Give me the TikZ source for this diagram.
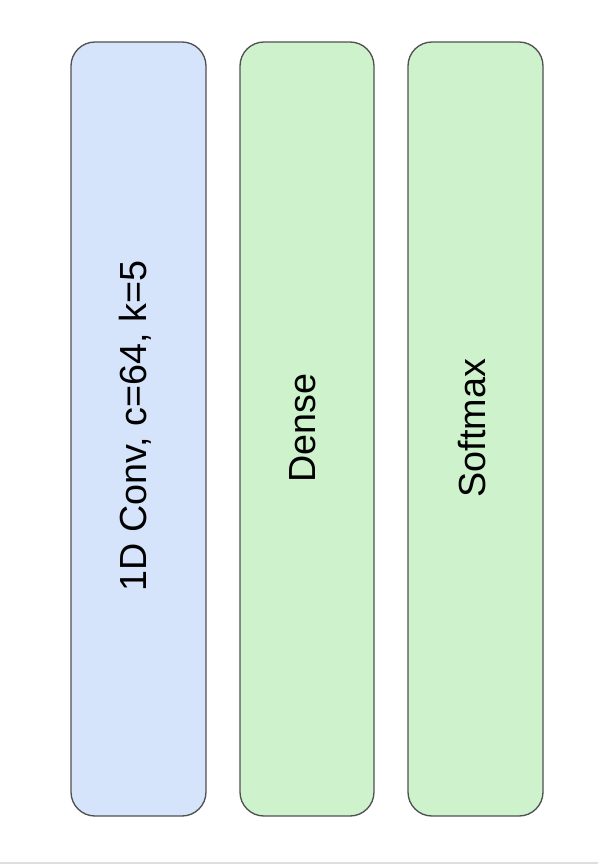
\documentclass[tikz,border=0pt]{standalone}
\usepackage{fontspec}
\setmainfont{Liberation Sans}
\definecolor{bluefill}{HTML}{D5E4FA}
\definecolor{greenfill}{HTML}{CDF2CC}
\definecolor{edgegray}{HTML}{505050}
\begin{document}
\begin{tikzpicture}[x=0.75pt,y=-0.75pt,
  layer/.style={draw=edgegray, line width=1pt, rounded corners=18pt},
  lbl/.style={rotate=90, font=\fontsize{28.3}{31}\selectfont, text=black, inner sep=0pt}]
\useasboundingbox (0,0) rectangle (598,864);
\fill[white] (0,0) rectangle (598,864);
\fill[black!13] (0,862) rectangle (598,864);
\draw[layer, fill=bluefill] (71,42) rectangle (206,816);
\draw[layer, fill=greenfill] (240,42) rectangle (374,816);
\draw[layer, fill=greenfill] (408,42) rectangle (543,816);
\node[lbl] (conv) at (135,426) {1D Conv, c=64, k=5};
\node[lbl] (dense) at (303,428) {Dense};
\node[lbl] (soft) at (472,428) {Softmax};
\end{tikzpicture}
\end{document}
